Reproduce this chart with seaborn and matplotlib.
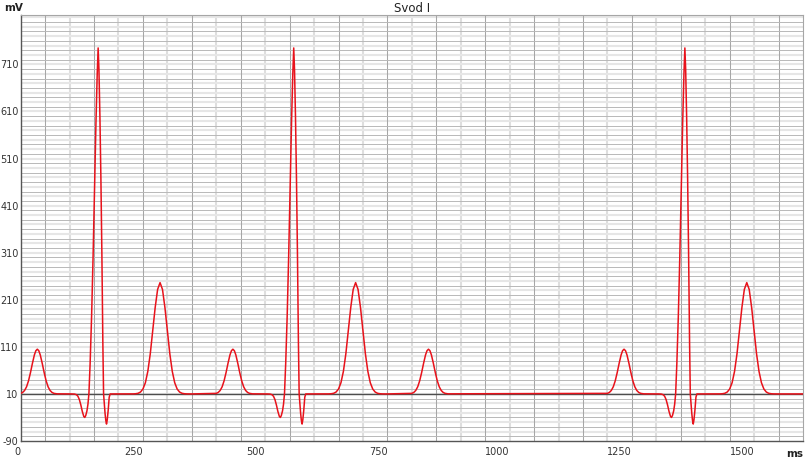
import matplotlib
matplotlib.use("Agg")
import matplotlib.pyplot as plt
import numpy as np
import pandas as pd
import seaborn as sns

# ---- data (ms, mV) ----
# P wave shape, offsets in ms from the start of each cycle
p_offsets_ms = [0, 4, 8, 12, 16, 20, 24, 28, 31, 34, 37, 40, 44, 48, 52, 56, 60, 64, 68, 74]
p_values_mv = [11.2, 13.2, 17.4, 25.2, 37.9, 55.3, 75.1, 92.9, 101.8, 105, 101.8, 92.9,
               75.1, 55.3, 37.9, 25.2, 17.4, 13.2, 11.2, 10.2]

# QRS complex + T wave shape, offsets in ms from the start of each cycle
qrst_offsets_ms = [104, 110, 114, 117, 120, 123, 126, 129, 131, 133, 135.5, 137.5, 139.5,
                   142, 145, 148, 151, 154, 156.5, 158.4, 160, 162, 164, 166, 168, 169.5,
                   171, 172.5, 174, 175.5, 177, 179, 181, 183,
                   225, 230, 235, 240, 245, 250, 255, 260, 265, 270, 275, 280, 285,
                   290, 295, 300, 305, 310, 315, 320, 325, 330, 335, 340, 350]
qrst_values_mv = [10, 9.7, 8.4, 5.1, -2, -13.5, -27.2, -37.7, -40, -36, -26, -12, 10,
                  75, 175, 300, 450, 590, 690, 745, 700, 600, 470, 310, 120, 10,
                  -12, -31, -46, -54, -45, -24, 3, 10,
                  10, 10.1, 10.4, 11.3, 14, 20.4, 33.8, 58, 95.2, 143.2, 193.3, 231.9, 246.5,
                  231.9, 193.3, 143.2, 95.2, 58, 33.8, 20.4, 14, 11.3, 10.4, 10.1, 10]

# cycle starts: every cycle has a P wave, the third one has no QRS/T (dropped beat)
p_starts_ms = [0, 400, 800, 1200]
qrst_starts_ms = [0, 400, 1200]
end_ms, end_mv = 1600, 10

baseline_mv = 10
x_ticks = [0, 250, 500, 750, 1000, 1250, 1500]
y_ticks = [-90, 10, 110, 210, 310, 410, 510, 610, 710]
x_lim = (0, 1600)
y_lim = (-90, 815)

# ---- build the series ----
rows = []
for s in p_starts_ms:
    rows += [(s + o, v) for o, v in zip(p_offsets_ms, p_values_mv)]
for s in qrst_starts_ms:
    rows += [(s + o, v) for o, v in zip(qrst_offsets_ms, qrst_values_mv)]
rows.append((end_ms, end_mv))
df = pd.DataFrame(rows, columns=["ms", "mV"]).sort_values("ms").reset_index(drop=True)

# ---- plot ----
sns.set_theme(style="white")
plt.rcParams["font.family"] = ["DejaVu Sans"]

W, H = 807, 459
fig = plt.figure(figsize=(W / 100, H / 100), dpi=100)
L, R, T, B = 20.7, 803, 15, 441
ax = fig.add_axes([L / W, 1 - B / H, (R - L) / W, (B - T) / H])
ax.set_facecolor("white")

# grid
for i, t in enumerate(np.arange(50, x_lim[1], 50)):
    if i % 2 == 0:
        ax.axvline(t, color="#a6a6a6", lw=0.75, zorder=1)
    else:
        ax.axvline(t, color="#dedede", lw=1.5, zorder=0.9)
for i, v in enumerate(np.arange(y_lim[0] + 10, y_lim[1], 10)):
    if i % 2 == 0:
        ax.axhline(v, color="#b8b8b8", lw=0.7, zorder=1)
    else:
        ax.axhline(v, color="#e6e6e6", lw=1.5, zorder=0.9)
ax.axhline(baseline_mv, color="#4d4d4d", lw=1.0, zorder=1.5)

sns.lineplot(data=df, x="ms", y="mV", ax=ax, color="#e8121b", lw=1.1,
             estimator=None, sort=False, zorder=3)

ax.set_xlim(*x_lim)
ax.set_ylim(*y_lim)
ax.set_xticks(x_ticks)
ax.set_yticks(y_ticks)
ax.set_xticklabels([str(v) for v in x_ticks])
ax.set_yticklabels([str(v) for v in y_ticks])
ax.tick_params(axis="both", length=0, labelsize=7, colors="#333333")
ax.tick_params(axis="x", pad=4)
ax.tick_params(axis="y", pad=1.5)
for lbl in ax.get_xticklabels():
    lbl.set_ha("right")
for lbl in ax.get_yticklabels():
    lbl.set_va("center_baseline")
ax.set_xlabel("")
ax.set_ylabel("")

for side in ["left", "bottom"]:
    ax.spines[side].set_color("#555555")
    ax.spines[side].set_linewidth(1.0)
for side in ["top", "right"]:
    ax.spines[side].set_color("#a6a6a6")
    ax.spines[side].set_linewidth(0.8)

ax.set_title("Svod I", fontsize=8.5, color="#222222", pad=2)
fig.text(4 / W, 1 - 8 / H, "mV", fontsize=7.5, weight="bold", color="#222222",
         ha="left", va="center")
fig.text(795 / W, 1 - 454 / H, "ms", fontsize=7.5, weight="bold", color="#222222",
         ha="center", va="center")

fig.savefig("out.png", dpi=100)
